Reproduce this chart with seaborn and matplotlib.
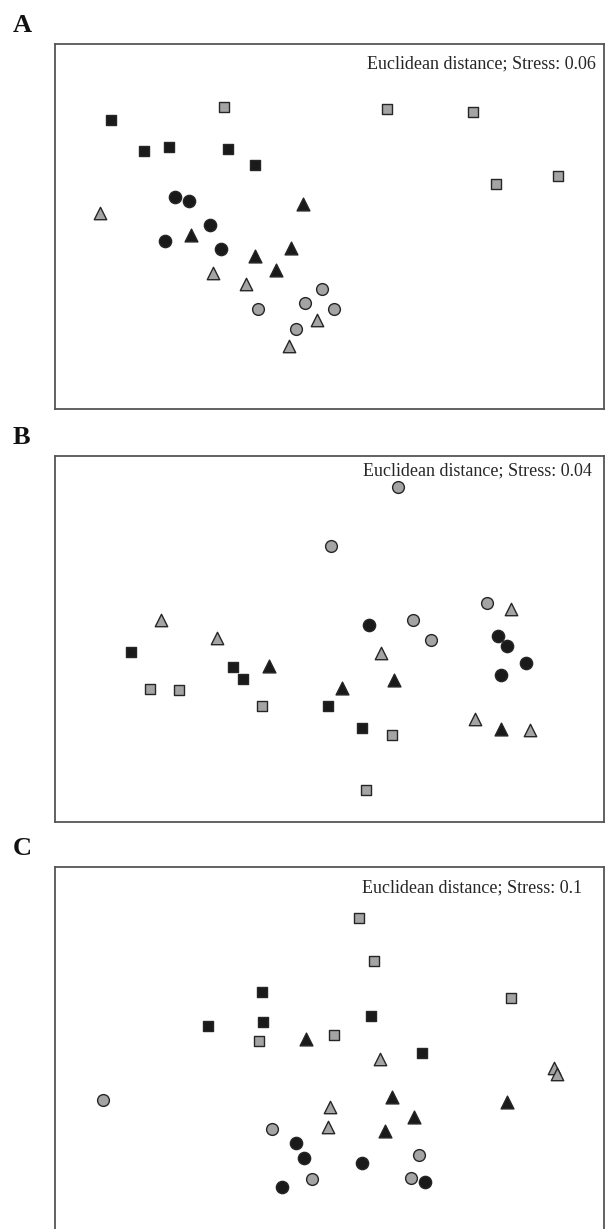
import pandas as pd
import matplotlib.pyplot as plt
import seaborn as sns

# NMDS coordinates (arbitrary units, y grows downward)
groups = ["black_sq", "gray_sq", "black_ci", "gray_ci", "black_tri", "gray_tri"]

# Panel A
a_black_sq = [(287, 358), (374, 449), (439, 439), (591, 443), (662, 494)]
a_gray_sq = [(581, 319), (1003, 324), (1225, 333), (1286, 551), (1447, 526)]
a_black_ci = [(455, 589), (490, 601), (545, 673), (429, 721), (574, 745)]
a_gray_ci = [(669, 928), (790, 908), (835, 867), (866, 926), (768, 988)]
a_black_tri = [(785, 611), (496, 703), (754, 743), (662, 767), (715, 808)]
a_gray_tri = [(260, 638), (553, 818), (638, 851), (822, 960), (749, 1037)]

# Panel B
b_black_sq = [(339, 697), (605, 742), (629, 778), (851, 858), (937, 926)]
b_gray_sq = [(389, 808), (464, 811), (678, 858), (1015, 946), (949, 1113)]
b_black_ci = [(957, 615), (1290, 649), (1313, 679), (1364, 730), (1297, 766)]
b_gray_ci = [(1032, 200), (859, 377), (1069, 602), (1116, 662), (1263, 549)]
b_black_tri = [(697, 738), (887, 806), (1021, 781), (1299, 928)]
b_gray_tri = [(417, 601), (563, 655), (987, 700), (1323, 567), (1230, 897), (1373, 930)]

# Panel C
c_black_sq = [(680, 487), (683, 575), (538, 588), (961, 559), (1094, 669)]
c_gray_sq = [(930, 263), (969, 392), (1325, 504), (865, 616), (672, 634)]
c_black_ci = [(767, 941), (787, 984), (937, 999), (732, 1071), (1101, 1058)]
c_gray_ci = [(267, 810), (706, 898), (1086, 975), (809, 1047), (1064, 1044)]
c_black_tri = [(794, 628), (1017, 800), (1074, 860), (997, 903), (1313, 816)]
c_gray_tri = [(985, 688), (1436, 713), (1443, 733), (855, 831), (850, 891)]

labels = ["A", "B", "C"]
stress = ["Euclidean distance; Stress: 0.06",
          "Euclidean distance; Stress: 0.04",
          "Euclidean distance; Stress: 0.1"]

panels = [
    [a_black_sq, a_gray_sq, a_black_ci, a_gray_ci, a_black_tri, a_gray_tri],
    [b_black_sq, b_gray_sq, b_black_ci, b_gray_ci, b_black_tri, b_gray_tri],
    [c_black_sq, c_gray_sq, c_black_ci, c_gray_ci, c_black_tri, c_gray_tri],
]

# plot frame in the same units
x_lims = [(143, 1565), (143, 1565), (143, 1565)]
y_lims = [(1228, 128), (1208, 108), (1210, 110)]

style = {
    "black_sq": dict(marker="s", color="#1a1a1a", s=58),
    "gray_sq": dict(marker="s", color="#a4a4a4", s=48),
    "black_ci": dict(marker="o", color="#1a1a1a", s=78),
    "gray_ci": dict(marker="o", color="#a4a4a4", s=72),
    "black_tri": dict(marker="^", color="#1a1a1a", s=85),
    "gray_tri": dict(marker="^", color="#a4a4a4", s=80),
}

sns.set_style("white")
plt.rcParams["font.family"] = ["Liberation Serif", "DejaVu Serif"]

W, H = 606, 1229
fig = plt.figure(figsize=(W / 100, H / 100), dpi=100)

# axes boxes in pixels: left, top, right, bottom
boxes = [(55, 44, 604, 409), (55, 456, 604, 822), (55, 867, 604, 1233)]
text_x = [0.5675, 0.5605, 0.5584]
text_y = [0.968, 0.983, 0.966]

for i, pts in enumerate(panels):
    l, t, r, b = boxes[i]
    ax = fig.add_axes([l / W, 1 - b / H, (r - l) / W, (b - t) / H])
    for g, coords in zip(groups, pts):
        df = pd.DataFrame(coords, columns=["x", "y"])
        st = style[g]
        sns.scatterplot(data=df, x="x", y="y", ax=ax, marker=st["marker"],
                        color=st["color"], s=st["s"], edgecolor="#262626",
                        linewidth=1.0, legend=False, zorder=3)
    ax.set_xlim(*x_lims[i])
    ax.set_ylim(*y_lims[i])
    ax.set_xticks([])
    ax.set_yticks([])
    ax.set_xlabel("")
    ax.set_ylabel("")
    for sp in ax.spines.values():
        sp.set_color("#555555")
        sp.set_linewidth(1.3)
    ax.text(text_x[i], text_y[i], stress[i], transform=ax.transAxes,
            ha="left", va="top", fontsize=13)
    fig.text(13 / W, 1 - (t - 30) / H, labels[i], ha="left", va="top",
             fontsize=19, fontweight="bold", color="#111111")

fig.savefig("out.png", dpi=100)
